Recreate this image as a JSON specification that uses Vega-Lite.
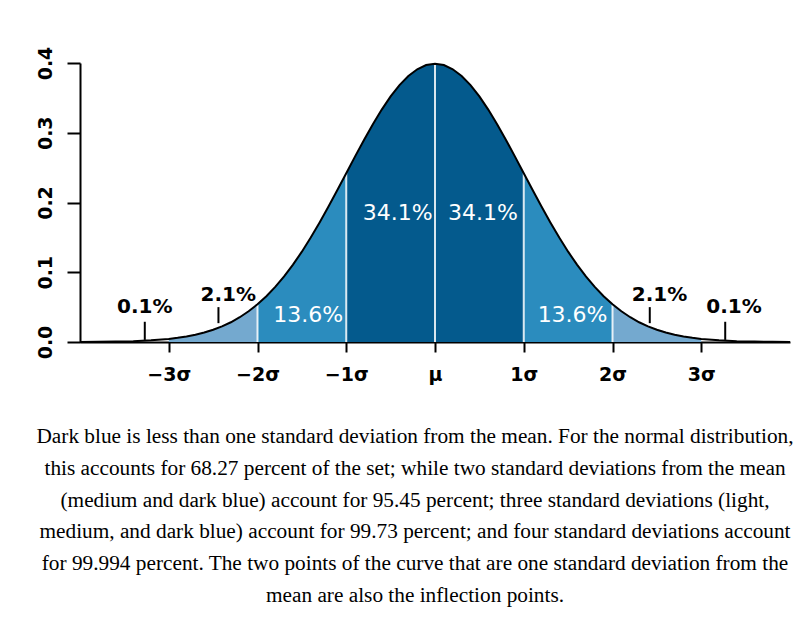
{
  "$schema": "https://vega.github.io/schema/vega-lite/v6.json",
  "width": 710,
  "height": 279,
  "autosize": {"type": "none"},
  "padding": {"left": 80, "top": 63, "right": 18, "bottom": 277},
  "background": "white",
  "config": {"view": {"stroke": null}, "font": "DejaVu Sans"},
  "title": {
    "text": [
      "Dark blue is less than one standard deviation from the mean. For the normal distribution,",
      "this accounts for 68.27 percent of the set; while two standard deviations from the mean",
      "(medium and dark blue) account for 95.45 percent; three standard deviations (light,",
      "medium, and dark blue) account for 99.73 percent; and four standard deviations account",
      "for 99.994 percent. The two points of the curve that are one standard deviation from the",
      "mean are also the inflection points."
    ],
    "orient": "bottom",
    "anchor": "middle",
    "frame": "bounds",
    "font": "Liberation Serif",
    "fontSize": 21.3,
    "fontWeight": "normal",
    "color": "black",
    "lineHeight": 31.8,
    "offset": 42
  },
  "datasets": {
    "curve": [
      {"x": -4.0, "y": 0.0001}, {"x": -3.8, "y": 0.0003}, {"x": -3.6, "y": 0.0006}, {"x": -3.4, "y": 0.0012},
      {"x": -3.2, "y": 0.0024}, {"x": -3.0, "y": 0.0044}, {"x": -2.9, "y": 0.0060}, {"x": -2.8, "y": 0.0079},
      {"x": -2.7, "y": 0.0104}, {"x": -2.6, "y": 0.0136}, {"x": -2.5, "y": 0.0175}, {"x": -2.4, "y": 0.0224},
      {"x": -2.3, "y": 0.0283}, {"x": -2.2, "y": 0.0355}, {"x": -2.1, "y": 0.0440}, {"x": -2.0, "y": 0.0540},
      {"x": -1.9, "y": 0.0656}, {"x": -1.8, "y": 0.0790}, {"x": -1.7, "y": 0.0940}, {"x": -1.6, "y": 0.1109},
      {"x": -1.5, "y": 0.1295}, {"x": -1.4, "y": 0.1497}, {"x": -1.3, "y": 0.1714}, {"x": -1.2, "y": 0.1942},
      {"x": -1.1, "y": 0.2179}, {"x": -1.0, "y": 0.2420}, {"x": -0.9, "y": 0.2661}, {"x": -0.8, "y": 0.2897},
      {"x": -0.7, "y": 0.3123}, {"x": -0.6, "y": 0.3332}, {"x": -0.5, "y": 0.3521}, {"x": -0.4, "y": 0.3683},
      {"x": -0.3, "y": 0.3814}, {"x": -0.2, "y": 0.3910}, {"x": -0.1, "y": 0.3970}, {"x": 0.0, "y": 0.3989},
      {"x": 0.1, "y": 0.3970}, {"x": 0.2, "y": 0.3910}, {"x": 0.3, "y": 0.3814}, {"x": 0.4, "y": 0.3683},
      {"x": 0.5, "y": 0.3521}, {"x": 0.6, "y": 0.3332}, {"x": 0.7, "y": 0.3123}, {"x": 0.8, "y": 0.2897},
      {"x": 0.9, "y": 0.2661}, {"x": 1.0, "y": 0.2420}, {"x": 1.1, "y": 0.2179}, {"x": 1.2, "y": 0.1942},
      {"x": 1.3, "y": 0.1714}, {"x": 1.4, "y": 0.1497}, {"x": 1.5, "y": 0.1295}, {"x": 1.6, "y": 0.1109},
      {"x": 1.7, "y": 0.0940}, {"x": 1.8, "y": 0.0790}, {"x": 1.9, "y": 0.0656}, {"x": 2.0, "y": 0.0540},
      {"x": 2.1, "y": 0.0440}, {"x": 2.2, "y": 0.0355}, {"x": 2.3, "y": 0.0283}, {"x": 2.4, "y": 0.0224},
      {"x": 2.5, "y": 0.0175}, {"x": 2.6, "y": 0.0136}, {"x": 2.7, "y": 0.0104}, {"x": 2.8, "y": 0.0079},
      {"x": 2.9, "y": 0.0060}, {"x": 3.0, "y": 0.0044}, {"x": 3.2, "y": 0.0024}, {"x": 3.4, "y": 0.0012},
      {"x": 3.6, "y": 0.0006}, {"x": 3.8, "y": 0.0003}, {"x": 4.0, "y": 0.0001}
    ],
    "pointers": [
      {"x": -3.27, "y": 0.003, "y2": 0.029},
      {"x": -2.44, "y": 0.027, "y2": 0.050},
      {"x": 2.42, "y": 0.027, "y2": 0.050},
      {"x": 3.27, "y": 0.003, "y2": 0.029}
    ],
    "outer_labels": [
      {"x": -3.27, "y": 0.050, "label": "0.1%"},
      {"x": -2.33, "y": 0.067, "label": "2.1%"},
      {"x": 2.53, "y": 0.067, "label": "2.1%"},
      {"x": 3.37, "y": 0.050, "label": "0.1%"}
    ],
    "inner_labels": [
      {"x": -0.42, "y": 0.185, "label": "34.1%"},
      {"x": 0.54, "y": 0.185, "label": "34.1%"},
      {"x": -1.43, "y": 0.0387, "label": "13.6%"},
      {"x": 1.55, "y": 0.0387, "label": "13.6%"}
    ]
  },
  "encoding": {
    "x": {
      "field": "x",
      "type": "quantitative",
      "scale": {"domain": [-4, 4], "nice": false, "zero": false},
      "axis": {
        "values": [-3, -2, -1, 0, 1, 2, 3],
        "labelExpr": "datum.value == 0 ? 'μ' : (datum.value < 0 ? '−' + abs(datum.value) + 'σ' : datum.value + 'σ')",
        "title": null,
        "grid": false,
        "domainColor": "black",
        "domainWidth": 2,
        "tickColor": "black",
        "tickWidth": 2,
        "tickSize": 10,
        "labelFont": "DejaVu Sans",
        "labelFontSize": 19,
        "labelFontWeight": "bold",
        "labelColor": "black",
        "labelPadding": 13
      }
    },
    "y": {
      "field": "y",
      "type": "quantitative",
      "scale": {"domain": [0, 0.4], "nice": false},
      "axis": {
        "values": [0, 0.1, 0.2, 0.3, 0.4],
        "format": ".1f",
        "title": null,
        "grid": false,
        "domainColor": "black",
        "domainWidth": 2,
        "tickColor": "black",
        "tickWidth": 2,
        "tickSize": 13,
        "labelAngle": -90,
        "labelAlign": "center",
        "labelBaseline": "bottom",
        "labelFont": "DejaVu Sans",
        "labelFontSize": 19,
        "labelFontWeight": "bold",
        "labelColor": "black",
        "labelPadding": 12
      }
    }
  },
  "layer": [
    {
      "data": {"name": "curve"},
      "transform": [{"filter": "datum.x >= -3 && datum.x <= 3"}],
      "mark": {"type": "area", "color": "#74a9cf"}
    },
    {
      "data": {"name": "curve"},
      "transform": [{"filter": "datum.x >= -2 && datum.x <= 2"}],
      "mark": {"type": "area", "color": "#2b8cbe"}
    },
    {
      "data": {"name": "curve"},
      "transform": [{"filter": "datum.x >= -1 && datum.x <= 1"}],
      "mark": {"type": "area", "color": "#045a8d"}
    },
    {
      "data": {"name": "curve"},
      "transform": [{"filter": {"field": "x", "oneOf": [-2, -1, 0, 1, 2]}}],
      "mark": {"type": "rule", "color": "white", "strokeWidth": 2, "opacity": 0.85},
      "encoding": {"y2": {"datum": 0}}
    },
    {
      "data": {"name": "curve"},
      "mark": {"type": "line", "color": "black", "strokeWidth": 2}
    },
    {
      "data": {"name": "pointers"},
      "mark": {"type": "rule", "color": "black", "strokeWidth": 2},
      "encoding": {"y2": {"field": "y2"}}
    },
    {
      "data": {"name": "outer_labels"},
      "mark": {"type": "text", "font": "DejaVu Sans", "fontSize": 20, "fontWeight": "bold", "color": "black", "baseline": "middle", "align": "center"},
      "encoding": {"text": {"field": "label"}}
    },
    {
      "data": {"name": "inner_labels"},
      "mark": {"type": "text", "font": "DejaVu Sans", "fontSize": 22, "color": "white", "baseline": "middle", "align": "center"},
      "encoding": {"text": {"field": "label"}}
    }
  ]
}
